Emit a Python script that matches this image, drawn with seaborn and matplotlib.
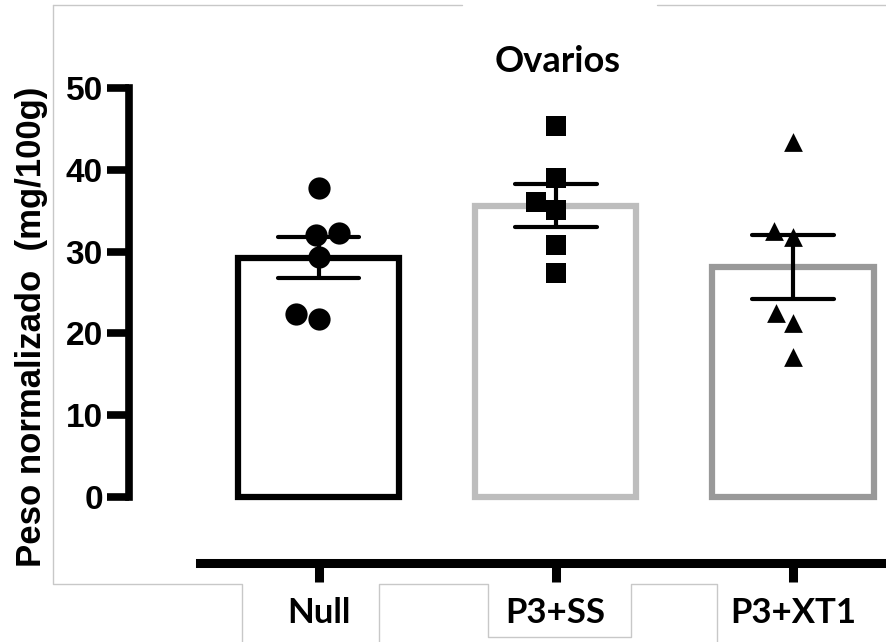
import numpy as np
import pandas as pd
import matplotlib
matplotlib.use("Agg")
import matplotlib.pyplot as plt
from matplotlib.lines import Line2D
import seaborn as sns

# ---- data ----
categories = ["Null", "P3+SS", "P3+XT1"]
null_vals = [37.8, 32.0, 32.3, 29.3, 21.8, 22.4]
ss_vals = [45.4, 39.0, 36.1, 35.1, 30.8, 27.4]
xt1_vals = [43.4, 32.5, 31.8, 22.5, 21.3, 17.1]
y_ticks = [0, 10, 20, 30, 40, 50]
title = "Ovarios"
y_label = "Peso normalizado  (mg/100g)"

groups = {"Null": null_vals, "P3+SS": ss_vals, "P3+XT1": xt1_vals}
df = pd.DataFrame(
    [(g, v) for g in categories for v in groups[g]], columns=["group", "value"]
)

sns.set_style("ticks")
plt.rcParams["font.family"] = ["Liberation Sans", "DejaVu Sans"]
plt.rcParams["text.color"] = "black"
plt.rcParams["axes.labelcolor"] = "black"
plt.rcParams["axes.edgecolor"] = "black"
plt.rcParams["xtick.color"] = "black"
plt.rcParams["ytick.color"] = "black"

W, H = 886, 642
fig = plt.figure(figsize=(W / 100, H / 100), dpi=100)
ax_left, ax_right, ax_top, ax_bottom = 128.5, 886, 88, 563
ax = fig.add_axes([ax_left / W, 1 - ax_bottom / H,
                   (ax_right - ax_left) / W, (ax_bottom - ax_top) / H])

edge_colors = ["black", "#BDBDBD", "#999999"]
marker_styles = ["o", "s", "^"]
marker_sizes = [16, 15, 13.5]

sns.barplot(data=df, x="group", y="value", order=categories,
            errorbar="se", capsize=0.345, width=0.68,
            color="white", linewidth=4.5,
            err_kws={"color": "black", "linewidth": 3.0},
            ax=ax)
for patch, ec in zip(ax.patches, edge_colors):
    patch.set_facecolor("white")
    patch.set_edgecolor(ec)
    patch.set_linewidth(4.5)

for g, m, s in zip(categories, marker_styles, marker_sizes):
    sns.swarmplot(data=df[df["group"] == g], x="group", y="value",
                  order=categories, marker=m, size=s, color="black",
                  linewidth=0, ax=ax, zorder=4)

xmin = (ax_left - 318.5) / 237.25
xmax = (ax_right - 318.5) / 237.25
ymin = -(ax_bottom - 497) / 8.18
ax.set_xlim(xmin, xmax)
ax.set_ylim(ymin, 50)

ax.spines["top"].set_visible(False)
ax.spines["right"].set_visible(False)
ax.spines["left"].set_bounds(0, 50)
ax.spines["left"].set_linewidth(5.5)
ax.spines["left"].set_color("black")
ax.spines["bottom"].set_bounds(-0.5, xmax)
ax.spines["bottom"].set_linewidth(6.5)
ax.spines["bottom"].set_color("black")

ax.set_yticks(y_ticks)
ax.set_yticklabels([str(t) for t in y_ticks])
ax.tick_params(axis="y", length=15.5, width=5.5, pad=3, labelsize=24,
               colors="black")
for lab in ax.get_yticklabels():
    lab.set_fontweight("bold")
    lab.set_family(["Liberation Sans", "DejaVu Sans"])

ax.set_xticks(range(len(categories)))
ax.set_xticklabels(categories)
ax.tick_params(axis="x", length=13.7, width=6.5, pad=11, labelsize=25,
               colors="black")
for lab in ax.get_xticklabels():
    lab.set_fontweight("bold")
    lab.set_family(["Lato", "DejaVu Sans"])

ax.set_xlabel("")
ax.set_ylabel(y_label, fontsize=25, fontweight="bold", color="black",
              family=["Liberation Sans", "DejaVu Sans"], va="center")
ax.yaxis.set_label_coords((32 - ax_left) / (ax_right - ax_left),
                          (ax_bottom - 326.5) / (ax_bottom - ax_top))

ax.set_title(title, fontsize=26, fontweight="bold", color="black",
             family=["Lato", "DejaVu Sans"],
             x=(558 - ax_left) / (ax_right - ax_left), pad=11.5)

# light grey frame lines of the original screenshot composition
frame_paths = [
    [(53, 5), (462, 5)],
    [(657, 5), (886, 5)],
    [(53, 5), (53, 584), (242, 584), (242, 642)],
    [(379, 642), (379, 584), (488, 584), (488, 637), (631, 637),
     (631, 584), (717, 584), (717, 642)],
]
for path in frame_paths:
    xs = [p[0] / W for p in path]
    ys = [1 - p[1] / H for p in path]
    fig.add_artist(Line2D(xs, ys, transform=fig.transFigure,
                          color="#C8C8C8", linewidth=1.0))

fig.savefig("out.png", dpi=100)
